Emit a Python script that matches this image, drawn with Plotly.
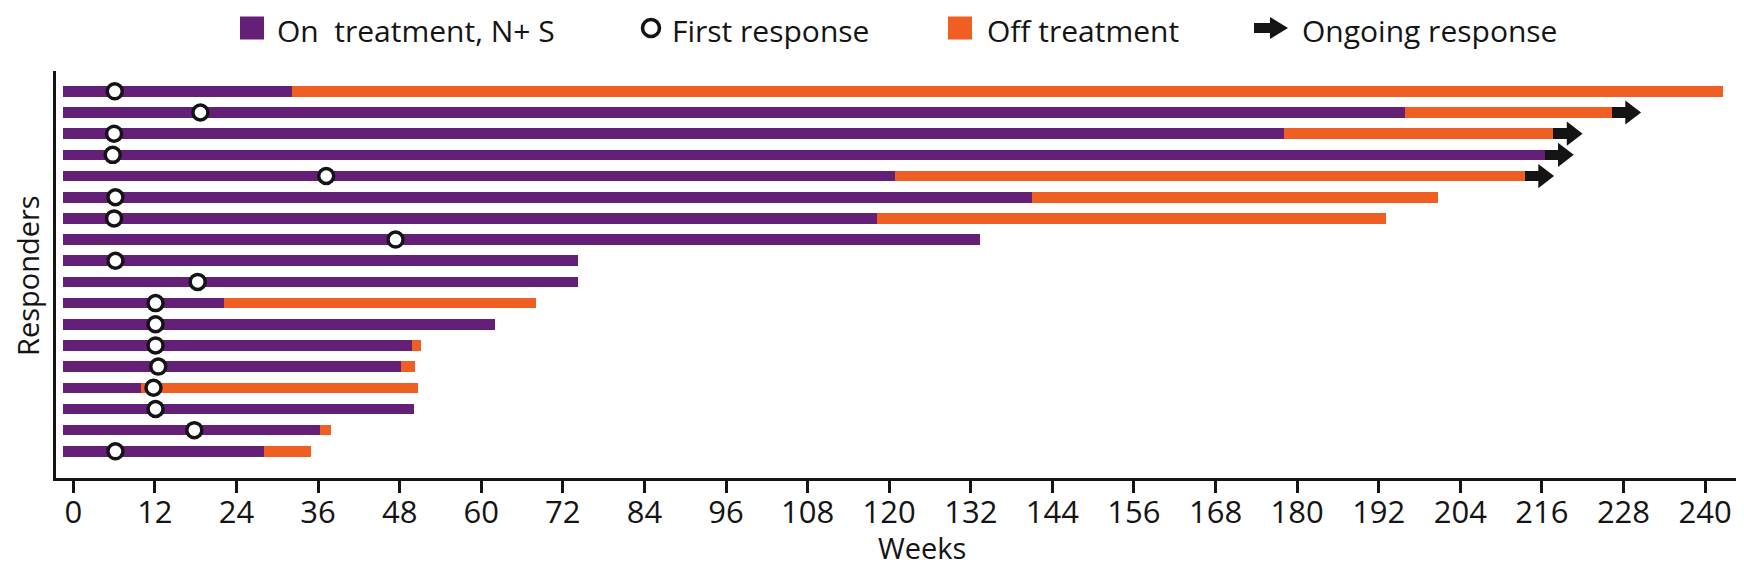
import plotly.graph_objects as go

# Responder rows, listed from top to bottom (weeks)
first_response = [6.1, 18.7, 6.0, 5.8, 37.2, 6.2, 6.0, 47.4, 6.2, 18.3,
                  12.1, 12.1, 12.1, 12.5, 11.8, 12.1, 17.8, 6.2]
on_treatment_end = [32.2, 195.8, 178.1, 216.4, 120.9, 141.0, 118.2, 133.3, 74.2, 74.2,
                    22.1, 62.0, 49.8, 48.2, 10.0, 50.1, 36.3, 28.0]
off_treatment_end = [242.7, 226.3, 217.7, None, 213.5, 200.7, 193.0, None, None, None,
                     68.1, None, 51.2, 50.3, 50.7, None, 37.9, 35.0]
ongoing = [False, True, True, True, True, False, False, False, False, False,
           False, False, False, False, False, False, False, False]
tick_weeks = list(range(0, 241, 12))

legend_labels = ["On\u00a0 treatment, N+ S", "First response", "Off treatment", "Ongoing response"]

PURPLE = "#641f76"
ORANGE = "#ef5f24"
BLACK = "#141414"
FONT = "Open Sans, Liberation Sans, sans-serif"

BAR_START = -1.5     # bars begin slightly left of week 0 in the original
ARROW_BODY = 2.0     # weeks
BAR_W = 0.5

n = len(first_response)
ys = list(range(n - 1, -1, -1))

fig = go.Figure()

# on treatment
fig.add_trace(go.Bar(
    y=ys, x=[e - BAR_START for e in on_treatment_end], base=BAR_START,
    orientation="h", width=BAR_W, marker=dict(color=PURPLE, line=dict(width=0)),
    showlegend=False, hoverinfo="skip"))

# off treatment
off_y, off_base, off_len = [], [], []
for y, on_e, off_e in zip(ys, on_treatment_end, off_treatment_end):
    if off_e is not None:
        off_y.append(y)
        off_base.append(on_e)
        off_len.append(off_e - on_e)
fig.add_trace(go.Bar(
    y=off_y, x=off_len, base=off_base, orientation="h", width=BAR_W,
    marker=dict(color=ORANGE, line=dict(width=0)), showlegend=False, hoverinfo="skip"))

# ongoing response arrows
arr_y, arr_base = [], []
for y, on_e, off_e, go_on in zip(ys, on_treatment_end, off_treatment_end, ongoing):
    if go_on:
        arr_y.append(y)
        arr_base.append(off_e if off_e is not None else on_e)
fig.add_trace(go.Bar(
    y=arr_y, x=[ARROW_BODY] * len(arr_y), base=arr_base, orientation="h", width=BAR_W,
    marker=dict(color=BLACK, line=dict(width=0)), showlegend=False, hoverinfo="skip"))
fig.add_trace(go.Scatter(
    y=arr_y, x=[b + ARROW_BODY + 0.74 for b in arr_base], mode="markers",
    marker=dict(symbol="triangle-right", size=21, color=BLACK, line=dict(width=0)),
    showlegend=False, hoverinfo="skip", cliponaxis=False))

# first response
fig.add_trace(go.Scatter(
    y=ys, x=first_response, mode="markers",
    marker=dict(symbol="circle", size=15, color="white", line=dict(color=BLACK, width=3.5)),
    showlegend=False, hoverinfo="skip", cliponaxis=False))

# ---- layout geometry (pixels) ----
W, H = 1744, 566
ML, MR, MT, MB = 48, 0, 63, 96
PW, PH = W - ML - MR, H - MT - MB


def px_x(X):
    return (X - ML) / PW


def px_y(Y):
    return (H - MB - Y) / PH


shapes = []
annotations = []
LEG_Y = 20

# legend: purple square
shapes.append(dict(type="rect", xref="paper", yref="paper",
                   x0=px_x(232), x1=px_x(256), y0=px_y(LEG_Y - 11.5), y1=px_y(LEG_Y + 11.5),
                   fillcolor=PURPLE, line=dict(width=0)))
# circle
shapes.append(dict(type="circle", xref="paper", yref="paper",
                   x0=px_x(634.5), x1=px_x(651.5), y0=px_y(LEG_Y - 8.5), y1=px_y(LEG_Y + 8.5),
                   fillcolor="white", line=dict(color=BLACK, width=3.5)))
# orange square
shapes.append(dict(type="rect", xref="paper", yref="paper",
                   x0=px_x(940), x1=px_x(964), y0=px_y(LEG_Y - 11.5), y1=px_y(LEG_Y + 11.5),
                   fillcolor=ORANGE, line=dict(width=0)))
# block arrow
pts = [(1246, LEG_Y - 5), (1262, LEG_Y - 5), (1262, LEG_Y - 11), (1280, LEG_Y),
       (1262, LEG_Y + 11), (1262, LEG_Y + 5), (1246, LEG_Y + 5)]
path = "M " + " L ".join(f"{px_x(a):.5f},{px_y(b):.5f}" for a, b in pts) + " Z"
shapes.append(dict(type="path", xref="paper", yref="paper", path=path,
                   fillcolor=BLACK, line=dict(width=0)))

for label, lx in zip(legend_labels, [268, 663, 978, 1293]):
    annotations.append(dict(text=label, xref="paper", yref="paper", x=px_x(lx), y=px_y(1),
                            xanchor="left", yanchor="top", showarrow=False, borderpad=0,
                            font=dict(family=FONT, size=30, color=BLACK)))

# axis titles
annotations.append(dict(text="Weeks", xref="paper", yref="paper", x=px_x(914), y=px_y(539),
                        xanchor="center", yanchor="middle", showarrow=False,
                        font=dict(family=FONT, size=29, color=BLACK)))
annotations.append(dict(text="Responders", xref="paper", yref="paper", x=px_x(19), y=px_y(268),
                        xanchor="center", yanchor="middle", showarrow=False, textangle=-90,
                        font=dict(family=FONT, size=29, color=BLACK)))

fig.update_layout(
    width=W, height=H,
    margin=dict(l=ML, r=MR, t=MT, b=MB),
    paper_bgcolor="white", plot_bgcolor="white",
    barmode="overlay", bargap=0,
    shapes=shapes, annotations=annotations,
    showlegend=False,
    xaxis=dict(range=[-2.54, 246.9], tickmode="array", tickvals=tick_weeks,
               ticks="outside", ticklen=12, tickwidth=2.5, tickcolor=BLACK,
               ticklabelstandoff=-7,
               tickfont=dict(family=FONT, size=31, color=BLACK),
               showline=True, linewidth=3, linecolor=BLACK,
               showgrid=False, zeroline=False),
    yaxis=dict(range=[-1.26, 17.96], showticklabels=False, ticks="",
               showline=True, linewidth=3, linecolor=BLACK,
               showgrid=False, zeroline=False),
)

fig.write_html("out.html")
